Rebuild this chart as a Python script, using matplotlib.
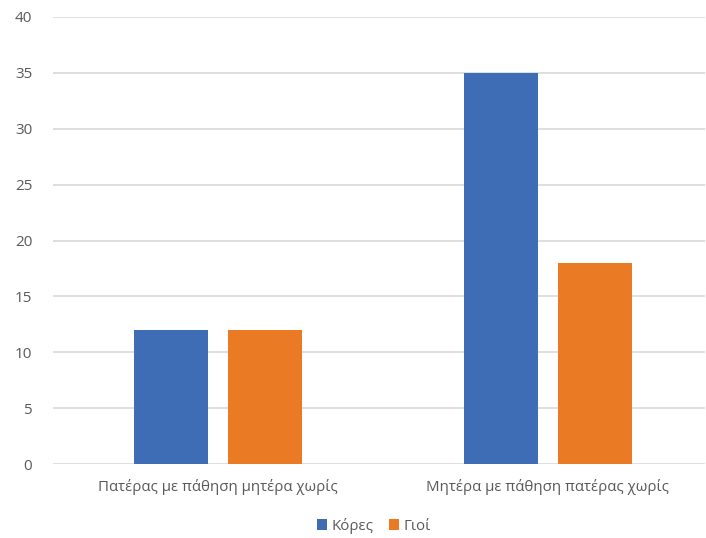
import matplotlib
matplotlib.use("Agg")
import matplotlib.pyplot as plt
import numpy as np

plt.rcParams['font.family'] = ['Open Sans', 'DejaVu Sans']

categories = ["Πατέρας με πάθηση μητέρα χωρίς", "Μητέρα με πάθηση πατέρας χωρίς"]
series_names = ["Κόρες", "Γιοί"]
daughters = [12, 35]
sons = [12, 18]
yticks = [0, 5, 10, 15, 20, 25, 30, 35, 40]

blue = "#3E6DB5"
orange = "#EB7A24"
text_color = "#595959"
grid_color = "#D9D9D9"

fig = plt.figure(figsize=(7.06, 5.38), dpi=100)
ax = fig.add_axes([53 / 706, 74 / 538, 652 / 706, (464 - 17) / 538])

x = np.arange(len(categories))
w = 0.224
off = 0.1424
ax.bar(x - off, daughters, width=w, color=blue, label=series_names[0], zorder=3)
ax.bar(x + off, sons, width=w, color=orange, label=series_names[1], zorder=3)

ax.set_xlim(-0.5, 1.476)
ax.set_ylim(0, 40)
ax.set_yticks(yticks)
ax.set_yticklabels([str(t) for t in yticks])
ax.set_xticks(x)
ax.set_xticklabels(categories)

ax.grid(axis='y', color=grid_color, linewidth=1.2, zorder=0)
for s in ax.spines.values():
    s.set_visible(False)
ax.tick_params(axis='y', length=0, colors=text_color, labelsize=11, pad=15)
ax.tick_params(axis='x', length=0, colors=text_color, labelsize=10.8, pad=11)

leg = ax.legend(loc='upper center', bbox_to_anchor=(0.492, -0.09), ncol=2,
                frameon=False, fontsize=10.8, handlelength=0.7, handleheight=0.7,
                handletextpad=0.3, columnspacing=1.0)
for t in leg.get_texts():
    t.set_color(text_color)

fig.savefig("out.png", dpi=100, facecolor="white")
